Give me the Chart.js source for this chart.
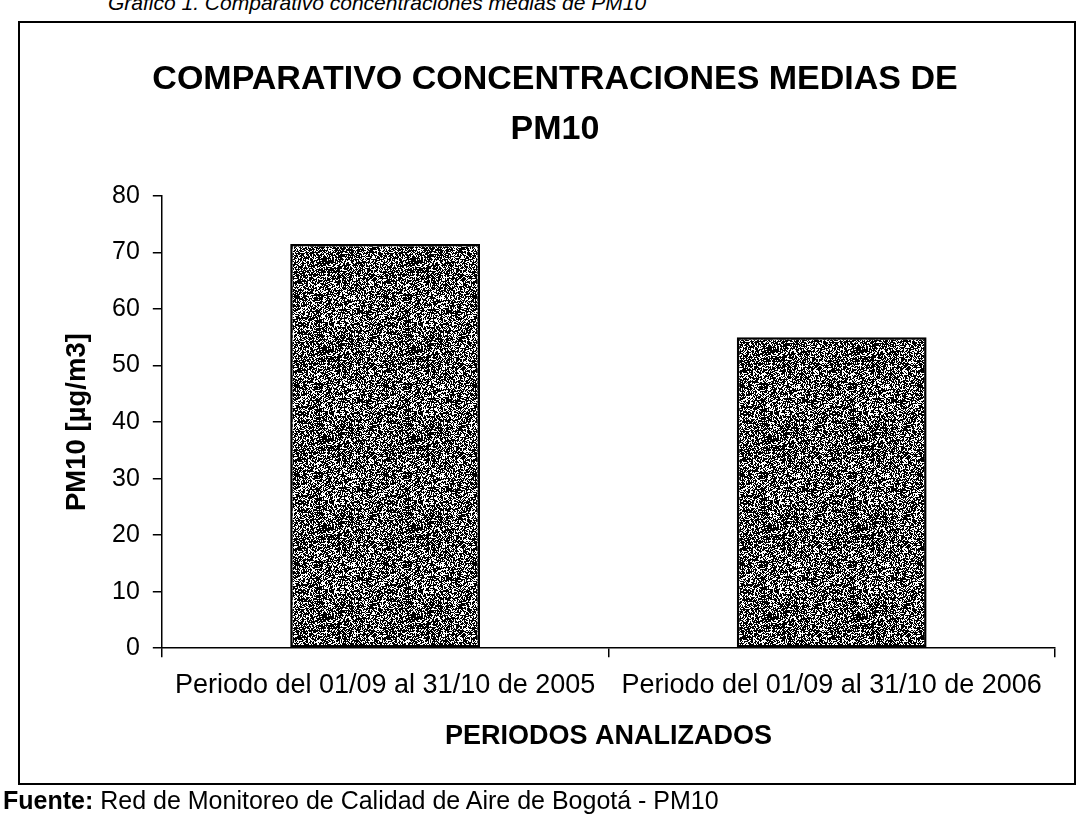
<!DOCTYPE html>
<html>
<head>
<meta charset="utf-8">
<script src="https://cdn.jsdelivr.net/npm/chart.js@4.4.1/dist/chart.umd.min.js"></script>
<style>
  html, body { margin:0; padding:0; background:#fff; width:1085px; height:814px; overflow:hidden;
    font-family:"Liberation Sans", Arial, sans-serif; color:#000; }
  #frame { position:absolute; left:18px; top:21px; width:1058px; height:764px; border:2px solid #000; box-sizing:border-box; }
  #wrap { position:absolute; left:0; top:0; width:1085px; height:814px; }
  #caption { position:absolute; left:108px; top:-9px; font-style:italic; font-size:21px; white-space:nowrap; }
  #source { position:absolute; left:3px; top:786px; font-size:25px; white-space:nowrap; }
</style>
</head>
<body>
<div id="caption">Gráfico 1. Comparativo concentraciones medias de PM10</div>
<div id="frame"></div>
<div id="wrap"><canvas id="c" width="1085" height="814"></canvas></div>
<div id="source"><b>Fuente:</b> Red de Monitoreo de Calidad de Aire de Bogotá - PM10</div>
<script>
// ---- data ----
const categories = ["Periodo del 01/09 al 31/10 de 2005", "Periodo del 01/09 al 31/10 de 2006"];
const pm10Values = [71.5, 55];
const yTickValues = [0, 10, 20, 30, 40, 50, 60, 70, 80];
const titleLines = ["COMPARATIVO CONCENTRACIONES MEDIAS DE", "PM10"];
const yAxisTitle = "PM10 [µg/m3]";
const xAxisTitle = "PERIODOS ANALIZADOS";

// ---- bar texture (style only) ----
function makeTexture() {
  const size = 89;
  const c = document.createElement('canvas');
  c.width = size; c.height = size;
  const g = c.getContext('2d');
  const img = g.createImageData(size, size);
  for (let y = 0; y < size; y++) {
    for (let x = 0; x < size; x++) {
      let h = (x * 374761393 + y * 668265263) >>> 0;
      h = ((h ^ (h >>> 13)) * 1274126177) >>> 0;
      h = (h ^ (h >>> 16)) & 255;
      const v = h < 160 ? 0 : 255;
      const i = (y * size + x) * 4;
      img.data[i] = v; img.data[i+1] = v; img.data[i+2] = v; img.data[i+3] = 255;
    }
  }
  g.putImageData(img, 0, 0);
  return document.getElementById('c').getContext('2d').createPattern(c, 'repeat');
}

const FONT = "'Liberation Sans', Arial, sans-serif";

new Chart(document.getElementById('c'), {
  type: 'bar',
  data: {
    labels: categories,
    datasets: [{
      data: pm10Values,
      backgroundColor: makeTexture(),
      borderColor: '#000',
      borderWidth: 2.5,
      borderSkipped: false,
      barPercentage: 0.425,
      categoryPercentage: 1.0
    }]
  },
  options: {
    responsive: false,
    animation: false,
    devicePixelRatio: 1,
    layout: { padding: { left: 55, top: 25, right: 30, bottom: 55 } },
    plugins: {
      legend: { display: false },
      tooltip: { enabled: false },
      title: {
        display: true,
        text: titleLines,
        color: '#000',
        font: { family: FONT, size: 34, weight: 'bold', lineHeight: 1.47 },
        padding: { top: 30, bottom: 41 }
      }
    },
    scales: {
      x: {
        grid: { display: true, drawOnChartArea: false, drawTicks: true, tickLength: 9, color: '#000', lineWidth: 1.5, offset: true },
        border: { display: true, color: '#000', width: 1.5 },
        ticks: { color: '#000', font: { family: FONT, size: 27 }, padding: 12, maxRotation: 0, autoSkip: false },
        title: { display: true, text: xAxisTitle, color: '#000',
                 font: { family: FONT, size: 27, weight: 'bold' }, padding: { top: 7, bottom: 6 } }
      },
      y: {
        min: 0, max: 80,
        afterBuildTicks: (scale) => { scale.ticks = yTickValues.map(v => ({ value: v })); },
        grid: { display: true, drawOnChartArea: false, drawTicks: true, tickLength: 9, color: '#000', lineWidth: 1.5 },
        border: { display: true, color: '#000', width: 1.5 },
        ticks: { color: '#000', font: { family: FONT, size: 25 }, padding: 13 },
        title: { display: true, text: yAxisTitle, color: '#000',
                 font: { family: FONT, size: 27.5, weight: 'bold' }, padding: { top: 6, bottom: 5 } }
      }
    }
  }
});
</script>
</body>
</html>
